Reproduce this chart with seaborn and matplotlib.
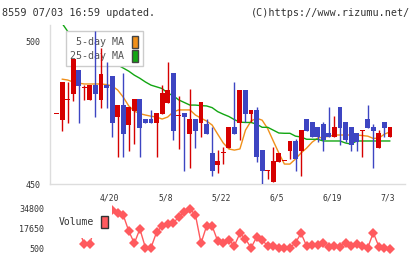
import numpy as np
import pandas as pd
import matplotlib
matplotlib.use("Agg")
import matplotlib.pyplot as plt
import matplotlib.transforms as mtransforms
from matplotlib.patches import Patch, Rectangle
import seaborn as sns

# daily OHLC (61 trading days, 4/6 .. 7/3)
opens = [474.9, 472.5, 479.9, 481.7, 490.1, 484.0, 479.6, 484.8, 479.6, 484.8,
         488.0, 473.7, 477.8, 470.9, 475.8, 479.9, 472.9, 472.9, 471.6, 474.8,
         478.6, 488.9, 474.1, 475.0, 467.7, 472.9, 471.6, 471.1, 461.0, 456.9,
         461.0, 462.8, 470.1, 471.6, 483.1, 474.8, 476.1, 462.0, 454.9, 450.9,
         457.9, 458.2, 461.7, 465.2, 461.7, 472.9, 471.8, 470.1, 471.1, 468.0,
         466.7, 477.1, 471.8, 470.1, 468.0, 469.0, 472.9, 470.1, 462.8, 471.8,
         466.7]
closes = [474.9, 485.8, 479.9, 493.9, 484.6, 484.0, 484.8, 481.7, 488.7, 483.9,
          471.6, 477.8, 467.7, 477.1, 479.9, 469.8, 471.6, 471.6, 475.0, 482.0,
          483.1, 468.8, 474.1, 473.7, 472.9, 468.8, 478.9, 467.7, 454.8, 458.2,
          461.0, 470.1, 467.7, 483.1, 474.8, 476.1, 459.7, 454.8, 454.9, 458.2,
          461.0, 458.2, 465.2, 458.9, 469.0, 468.8, 466.7, 466.7, 465.6, 466.7,
          470.1, 469.8, 465.6, 463.9, 464.9, 469.0, 469.8, 468.8, 468.0, 469.8,
          470.1]
highs = [474.9, 485.8, 486.0, 493.9, 490.1, 484.8, 484.8, 503.9, 497.9, 493.0,
         488.0, 477.8, 488.9, 477.1, 479.9, 479.9, 472.9, 476.1, 475.0, 484.8,
         493.0, 488.9, 481.0, 475.0, 483.4, 472.9, 478.9, 472.9, 470.2, 462.0,
         463.1, 470.1, 486.0, 483.1, 483.1, 476.1, 477.1, 462.0, 454.9, 463.1,
         461.0, 458.2, 465.2, 465.9, 469.0, 472.9, 471.8, 470.1, 471.8, 477.1,
         473.9, 477.1, 471.8, 470.1, 468.0, 469.0, 477.8, 471.1, 469.0, 471.8,
         470.1]
lows = [474.9, 468.7, 471.5, 479.2, 471.4, 479.6, 479.6, 473.7, 476.9, 476.9,
        466.7, 459.7, 459.7, 461.7, 464.0, 459.7, 471.6, 471.6, 459.7, 474.8,
        478.6, 465.6, 462.4, 454.8, 455.8, 462.8, 466.7, 467.7, 453.0, 453.9,
        457.0, 462.8, 467.7, 465.6, 471.9, 471.9, 457.9, 449.9, 452.0, 450.9,
        457.9, 458.2, 458.9, 454.8, 453.0, 468.8, 466.7, 464.9, 461.7, 466.7,
        466.7, 463.8, 464.9, 461.7, 461.7, 459.7, 469.8, 455.8, 462.8, 466.7,
        466.7]

ma5 = [np.nan, 486.9, 486.6, 485.9, 485.5, 485.2, 485.2, 485.2, 485.2, 485.0,
       484.5, 483.1, 480.6, 477.5, 475.7, 474.8, 474.3, 473.9, 473.6, 472.9,
       473.6, 475.4, 476.1, 476.1, 476.1, 474.3, 473.2, 472.2, 470.8, 467.6,
       464.5, 462.4, 462.0, 462.4, 469.0, 472.2, 473.2, 472.5, 469.5, 465.2,
       461.0, 457.1, 457.1, 458.9, 461.0, 462.7, 464.8, 466.2, 466.6, 466.8,
       467.3, 467.3, 467.3, 467.3, 467.3, 467.1, 466.9, 466.1, 466.2, 467.6,
       468.4]
ma25 = [np.nan, 506.5, 503.7, 502.1, 500.5, 499.4, 498.0, 496.9, 495.5, 494.4,
        493.3, 491.9, 490.8, 489.7, 488.3, 487.2, 485.9, 484.8, 484.2, 483.6,
        482.0, 481.1, 479.6, 478.7, 477.8, 477.8, 477.6, 477.5, 476.9, 475.5,
        474.6, 473.8, 472.7, 471.8, 471.7, 471.7, 471.1, 470.0, 470.0, 469.0,
        468.0, 467.9, 467.9, 466.9, 466.6, 465.8, 465.8, 465.8, 465.2, 465.2,
        465.2, 465.2, 464.5, 464.1, 465.2, 465.2, 465.2, 465.2, 465.2, 465.2,
        465.2]

volume = [16000, 20000, 15000, 25000, 17650, 4530, 4530, 23000, 28000, 31000,
          34000, 31100, 29650, 15935, 5390, 17650, 1615, 1615, 14820, 20220,
          21680, 22540, 28200, 31970, 34800, 29650, 5390, 20220, 20220, 7360,
          5390, 8220, 3330, 13960, 9075, 1615, 10530, 8220, 3070, 3070,
          1615, 1615, 1615, 5900, 13960, 3070, 3930, 3930, 5390, 2470,
          3070, 2470, 5900, 3070, 4530, 3070, 1615, 14480, 2470, 1615,
          500]

tick_idx = [10, 20, 30, 40, 50, 60]
tick_labels = ["4/20", "5/8", "5/22", "6/5", "6/19", "7/3"]

RED = "#d60000"
BLUE = "#3d45c2"
ORANGE = "#f0901a"
GREEN = "#12a612"
VOLC = "#ff5a5e"
TXT = "#333333"
GRID = "#dddddd"

sns.set_style("white")
plt.rcParams["font.family"] = ["DejaVu Sans Mono"]

df = pd.DataFrame({"day": np.arange(len(opens)), "open": opens, "high": highs,
                   "low": lows, "close": closes, "ma5": ma5, "ma25": ma25,
                   "volume": volume})

fig = plt.figure(figsize=(4.2, 2.59), dpi=100)
W, H = 420, 259
ax = fig.add_axes([50 / W, (H - 184.3) / H, 355 / W, 159.3 / H])
axv = fig.add_axes([50 / W, (H - 249) / H, 355 / W, 40 / H])

xlim = (-1.17, 62.7)

# moving averages (under the legend)
sns.lineplot(data=df, x="day", y="ma5", ax=ax, color=ORANGE, lw=1, zorder=2)
sns.lineplot(data=df, x="day", y="ma25", ax=ax, color=GREEN, lw=1, zorder=2)

# candles
for _, r in df.iterrows():
    up = r["close"] >= r["open"]
    c = RED if up else BLUE
    ax.vlines(r["day"], r["low"], r["high"], color=c, lw=1, zorder=3)
    h = abs(r["close"] - r["open"])
    lo = min(r["open"], r["close"])
    if h < 0.35:
        lo -= 0.18
        h = 0.36
    ax.bar(r["day"], h, bottom=lo, width=0.88, color=c, linewidth=0, zorder=3)

ax.set_xlim(*xlim)
ax.set_ylim(450, 505.9)
ax.set_xlabel("")
ax.set_ylabel("")
ax.set_yticks([450, 500])
ax.set_xticks(xlim[0] + np.arange(1, 12) * (xlim[1] - xlim[0]) / 11)
ax.set_xticklabels([])
ax.tick_params(axis="x", direction="inout", length=6.5, width=1, color=GRID)
ax.tick_params(axis="y", direction="inout", length=5, width=1, color=GRID,
               pad=4.5, labelsize=6, labelcolor=TXT)
for s in ["top", "right"]:
    ax.spines[s].set_visible(False)
for s in ["left", "bottom"]:
    ax.spines[s].set_color(GRID)
    ax.spines[s].set_linewidth(1)

leg = ax.legend(handles=[Patch(facecolor=ORANGE, edgecolor="#444444", label="5-day MA"),
                         Patch(facecolor=GREEN, edgecolor="#444444", label="25-day MA")],
                loc="upper left", bbox_to_anchor=(16 / 355, (184.3 - 31) / 159.3),
                borderaxespad=0, borderpad=0.45, fontsize=7.2, markerfirst=False,
                handlelength=0.6, handleheight=1.5, handletextpad=0.75,
                labelspacing=0.2, frameon=True, fancybox=False, framealpha=1,
                edgecolor="#cccccc", facecolor="white")
for t in leg.get_texts():
    t.set_color("#555555")
leg.set_zorder(2.5)

# date labels between the panels
trans = mtransforms.blended_transform_factory(ax.transData, ax.transAxes)
for i, lab in zip(tick_idx, tick_labels):
    ax.text(i - 0.4, -0.086, lab, transform=trans, ha="center", va="center",
            fontsize=5.8, color=TXT)

# volume panel
sns.lineplot(data=df, x="day", y="volume", ax=axv, color=VOLC, lw=1,
             marker="D", markersize=5, markeredgewidth=0, clip_on=False, zorder=2)
axv.set_xlim(*xlim)
axv.set_ylim(500, 34800)
axv.set_yticks([500, 17650, 34800])
axv.set_xticks([])
axv.set_xlabel("")
axv.set_ylabel("")
axv.tick_params(axis="y", length=0, pad=4.3, labelsize=6, labelcolor=TXT)
for s in axv.spines.values():
    s.set_visible(False)
axv.patch.set_alpha(0)

axv.add_patch(Rectangle((50 / W, (H - 237.5) / H), 62 / W, 36 / H,
                        transform=fig.transFigure, facecolor="white",
                        edgecolor="none", zorder=4, clip_on=False))
vleg = axv.legend(handles=[Patch(facecolor=VOLC, edgecolor="#333333", label="Volume")],
                  loc="center left", bbox_to_anchor=(9 / 355, (249 - 221.7) / 40),
                  borderaxespad=0, borderpad=0, fontsize=7, markerfirst=False,
                  handlelength=0.7, handleheight=1.5, handletextpad=0.7,
                  frameon=False)
for t in vleg.get_texts():
    t.set_color(TXT)
vleg.set_zorder(5)

fig.text(2 / W, 1 - 13 / H, "8559 07/03 16:59 updated.", ha="left", va="center",
         fontsize=7.3, color=TXT)
fig.text(410 / W, 1 - 13 / H, "(C)https://www.rizumu.net/", ha="right", va="center",
         fontsize=7.3, color=TXT)

fig.savefig("out.png", dpi=100)
